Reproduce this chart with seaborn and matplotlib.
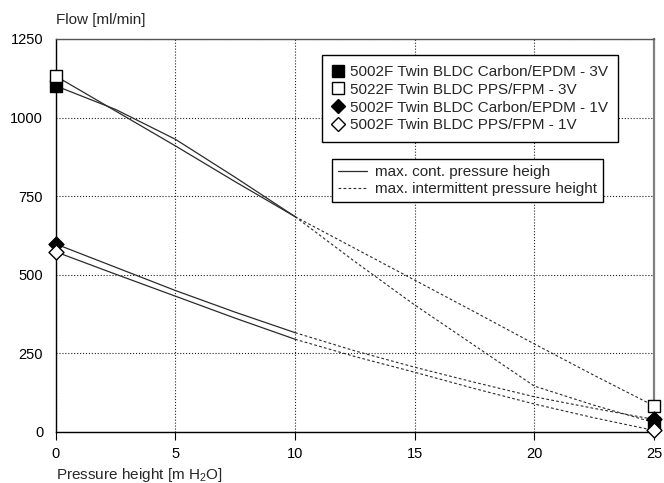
"""
Flow vs. pressure height for 5002F / 5022F twin BLDC pumps.
"""
# Standard imports:
import matplotlib.pyplot as plt
from matplotlib.lines import Line2D
import seaborn as sns


# === Data ===

# Pressure heights (m H2O) for the continuous and intermittent parts.
pressure_cont = [0, 2.5, 5, 7.5, 10]
pressure_int = [10, 12.5, 15, 17.5, 20, 22.5, 25]

# Flow (ml/min).
carbon_3v_cont = [1101, 1026, 931, 810, 685]
carbon_3v_int = [685, 542, 404, 275, 146, 85, 30]
pps_3v_cont = [1132, 1021, 910, 796, 685]
pps_3v_int = [685, 584, 483, 382, 280, 180, 83]
carbon_1v_cont = [598, 524, 450, 381, 316]
carbon_1v_int = [316, 258, 206, 158, 112, 75, 40]
pps_1v_cont = [573, 502, 432, 362, 295]
pps_1v_int = [295, 240, 190, 138, 89, 45, 5]

series_labels = [
    '5002F Twin BLDC Carbon/EPDM - 3V',
    '5022F Twin BLDC PPS/FPM - 3V',
    '5002F Twin BLDC Carbon/EPDM - 1V',
    '5002F Twin BLDC PPS/FPM - 1V',
]
line_labels = ['max. cont. pressure heigh', 'max. intermittent pressure height']

x_ticks = [0, 5, 10, 15, 20, 25]
y_ticks = [0, 250, 500, 750, 1000, 1250]


# === Setup ===

sns.set_style('ticks')
plt.rcParams.update({
    'font.family': ['Liberation Sans', 'DejaVu Sans'],
    'font.size': 11,
})

fig = plt.figure(figsize=(6.64, 4.83), dpi=100)
ax = fig.add_axes([0.0839, 0.1056, 0.9011, 0.8137])

line_color = '#2b2b2b'
dash = (0, (2.5, 2))

# (cont, intermittent, marker, face, size)
series = [
    (carbon_3v_cont, carbon_3v_int, 's', 'black', 74),
    (pps_3v_cont, pps_3v_int, 's', 'white', 74),
    (carbon_1v_cont, carbon_1v_int, 'D', 'black', 58),
    (pps_1v_cont, pps_1v_int, 'D', 'white', 58),
]

# Draw the curves.
for cont, inter, marker, face, size in series:
    sns.lineplot(x=pressure_cont, y=cont, ax=ax, color=line_color,
                 linewidth=0.9, sort=False, zorder=3)
    sns.lineplot(x=pressure_int, y=inter, ax=ax, color=line_color,
                 linewidth=0.8, linestyle=dash, sort=False, zorder=3)

# Draw the end markers.
for cont, inter, marker, face, size in series:
    sns.scatterplot(x=[pressure_cont[0], pressure_int[-1]], y=[cont[0], inter[-1]],
                    ax=ax, marker=marker, s=size, color=face, edgecolor='black',
                    linewidth=1, zorder=5, clip_on=False)


# === Axes styling ===

ax.set_xlim(0, 25)
ax.set_ylim(0, 1250)
ax.set_xticks(x_ticks)
ax.set_yticks(y_ticks)
ax.set_axisbelow(True)
ax.grid(True, color='#222222', linestyle=':', linewidth=0.8)
ax.tick_params(axis='x', direction='out', length=6, width=0.8, pad=5,
               colors='black', labelsize=10.5)
ax.tick_params(axis='y', length=0, pad=9, colors='black', labelsize=10.5)

for side in ['left', 'bottom']:
    ax.spines[side].set_color('black')
    ax.spines[side].set_linewidth(1)
ax.spines['top'].set_color('#555555')
ax.spines['top'].set_linewidth(1)
ax.spines['right'].set_color('#808080')
ax.spines['right'].set_linewidth(1.6)

ax.set_ylabel('Flow [ml/min]', rotation=0, ha='left', va='center', fontsize=11)
ax.yaxis.set_label_coords(0, 1.048)
ax.set_xlabel(r'Pressure height [m $\mathregular{H_2O}$]', ha='left', va='center',
              fontsize=11)
ax.xaxis.set_label_coords(0, -0.11)


# === Legends ===

marker_handles = [
    Line2D([], [], linestyle='none', marker=m, markersize=(8.6 if m == 's' else 7.6),
           markerfacecolor=f, markeredgecolor='black', markeredgewidth=1)
    for _, _, m, f, _ in series
]
leg1 = ax.legend(marker_handles, series_labels, loc='upper left',
                 bbox_to_anchor=(0.445, 0.959), borderaxespad=0, fancybox=False,
                 framealpha=1, edgecolor='black', handlelength=0.8,
                 handletextpad=0.4, labelspacing=0.25, borderpad=0.65,
                 fontsize=11)
leg1.get_frame().set_linewidth(1)
ax.add_artist(leg1)

line_handles = [
    Line2D([], [], color=line_color, linewidth=0.9),
    Line2D([], [], color=line_color, linewidth=0.8, linestyle=dash),
]
leg2 = ax.legend(line_handles, line_labels, loc='upper left',
                 bbox_to_anchor=(0.462, 0.695), borderaxespad=0, fancybox=False,
                 framealpha=1, edgecolor='black', handlelength=1.9,
                 handletextpad=0.5, labelspacing=0.2, borderpad=0.4,
                 fontsize=11)
leg2.get_frame().set_linewidth(1)

fig.savefig('out.png', dpi=100)
